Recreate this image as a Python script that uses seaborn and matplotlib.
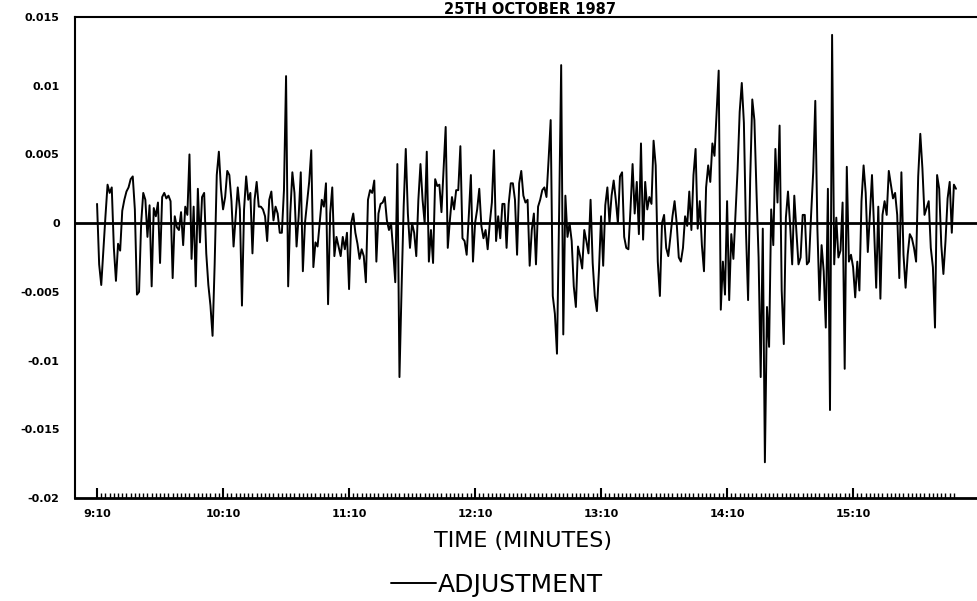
import numpy as np
import pandas as pd
import matplotlib
matplotlib.use("Agg")
import matplotlib.pyplot as plt
import seaborn as sns
from matplotlib.ticker import FixedLocator

# ---- data: price adjustment per minute, in thousandths (0.001) ----
title = "25TH OCTOBER 1987"
tick_labels_x = ["9:10", "10:10", "11:10", "12:10", "13:10", "14:10", "15:10"]
tick_minutes_x = [0, 60, 120, 180, 240, 300, 360]
ytick_values = [0.015, 0.01, 0.005, 0, -0.005, -0.01, -0.015, -0.02]
ytick_labels = ["0.015", "0.01", "0.005", "0", "-0.005", "-0.01", "-0.015", "-0.02"]

seg_0910 = [1.4, -3.0, -4.5, -2.0, 0.5, 2.8, 2.2, 2.6, -1.8, -4.2,
            -1.5, -2.0, 0.9, 1.7, 2.3, 2.6, 3.2, 3.4, 1.0, -5.2,
            -5.0, 0.0, 2.2, 1.7, -1.0, 1.3, -4.6, 1.1, 0.5, 1.5,
            -2.9, 1.9, 2.2, 1.8, 2.0, 1.6, -4.0, 0.5, -0.3, -0.5,
            0.8, -1.6, 1.2, 0.6, 5.0, -2.6, 1.2, -4.6, 2.5, -1.4,
            1.9, 2.2, -2.2, -4.5, -6.0, -8.2, -3.0, 3.5, 5.2, 2.5]
seg_1010 = [1.0, 1.9, 3.8, 3.5, 1.6, -1.7, 0.4, 2.6, 1.0, -6.0,
            1.0, 3.4, 1.7, 2.2, -2.2, 1.7, 3.0, 1.2, 1.2, 1.0,
            0.5, -1.3, 1.7, 2.3, 0.2, 1.2, 0.7, -0.7, -0.7, 2.4,
            10.7, -4.6, 0.7, 3.7, 2.2, -1.7, 0.5, 3.7, -3.5, 0.0,
            1.5, 3.0, 5.3, -3.2, -1.4, -1.7, 0.0, 1.7, 1.2, 2.9,
            -5.9, 0.7, 2.6, -2.4, -1.0, -1.7, -2.4, -1.0, -1.9, -0.7]
seg_1110 = [-4.8, 0.0, 0.7, -0.7, -1.5, -2.6, -1.9, -2.4, -4.3, 1.7,
            2.4, 2.2, 3.1, -2.8, 0.7, 1.4, 1.5, 1.9, 0.2, -0.5,
            0.0, -2.0, -4.3, 4.3, -11.2, -4.8, 1.2, 5.4, 0.7, -1.8,
            0.0, -0.7, -2.4, 1.7, 4.3, 1.7, 0.0, 5.2, -2.8, -0.5,
            -2.9, 3.2, 2.7, 2.8, 0.8, 3.9, 7.0, -1.8, 0.2, 1.9,
            1.0, 2.4, 2.4, 5.6, -1.1, -1.3, -2.3, 0.5, 3.5, -2.8]
seg_1210 = [0.0, 1.0, 2.5, -0.2, -1.1, -0.5, -1.9, 0.0, 1.5, 5.3,
            -1.3, 0.5, -1.1, 1.4, 1.4, -1.8, 1.4, 2.9, 2.9, 1.7,
            -2.3, 2.9, 3.8, 2.0, 1.5, 1.7, -3.1, -0.5, 0.7, -3.0,
            1.2, 1.7, 2.4, 2.6, 1.9, 4.6, 7.5, -5.3, -6.6, -9.5,
            0.5, 11.5, -8.1, 2.0, -1.0, 0.0, -1.3, -4.6, -6.1, -1.7,
            -2.4, -3.3, -0.5, -1.3, -2.2, 1.7, -2.9, -5.3, -6.4, -3.4]
seg_1310 = [0.5, -3.1, 1.3, 2.6, 0.0, 2.0, 3.1, 1.7, 0.0, 3.4,
            3.7, -1.0, -1.8, -1.9, 1.0, 4.3, 0.7, 3.0, -0.8, 5.8,
            -1.2, 3.0, 1.0, 1.9, 1.4, 6.0, 4.2, -2.8, -5.3, 0.0,
            0.6, -1.8, -2.4, -1.0, 0.5, 1.6, 0.0, -2.5, -2.8, -1.8,
            0.5, -0.2, 2.3, -0.5, 3.5, 5.4, -0.4, 1.6, -1.6, -3.5,
            2.6, 4.2, 3.0, 5.8, 4.9, 8.0, 11.1, -6.3, -2.8, -5.2]
seg_1410 = [1.6, -5.6, -0.8, -2.6, 0.7, 3.9, 8.1, 10.2, 7.3, -0.6,
            -5.6, 3.2, 9.0, 7.5, 2.3, -2.5, -11.2, -0.4, -17.4, -6.1,
            -9.0, 1.0, -1.6, 5.4, 1.5, 7.1, -4.9, -8.8, 0.4, 2.3,
            -0.1, -3.0, 2.0, -0.6, -3.0, -2.5, 0.6, 0.6, -3.0, -2.8,
            0.6, 3.7, 8.9, -0.4, -5.6, -1.6, -3.5, -7.6, 2.5, -13.6,
            13.7, -3.0, 0.4, -2.5, -2.0, 1.5, -10.6, 4.1, -2.8, -2.3]
seg_1510 = [-3.2, -5.4, -2.8, -4.9, 1.6, 4.2, 2.2, -2.1, 0.6, 3.5,
            -0.4, -4.7, 1.2, -5.5, 0.6, 1.6, 0.6, 3.8, 2.8, 1.8,
            2.2, 0.6, -4.0, 3.7, -2.3, -4.7, -2.3, -0.8, -1.1, -1.8,
            -2.8, 3.4, 6.5, 4.0, 0.6, 1.1, 1.6, -1.8, -3.2, -7.6,
            3.5, 2.5, -1.6, -3.7, -1.3, 1.8, 3.0, -0.7, 2.8, 2.5]

adjustment_milli = seg_0910 + seg_1010 + seg_1110 + seg_1210 + seg_1310 + seg_1410 + seg_1510
minutes = list(range(len(adjustment_milli)))
df = pd.DataFrame({"minute": minutes,
                   "ADJUSTMENT": np.array(adjustment_milli) / 1000.0})

# ---- style ----
sns.set_style("white")
plt.rcParams["font.family"] = ["DejaVu Sans"]
plt.rcParams["text.color"] = "black"
plt.rcParams["axes.labelcolor"] = "black"
plt.rcParams["xtick.color"] = "black"
plt.rcParams["ytick.color"] = "black"

W, H = 977, 601
fig = plt.figure(figsize=(W / 100, H / 100), dpi=100)
ax_left, ax_right, ax_top, ax_bottom = 75, 977, 17, 498
ax = fig.add_axes([ax_left / W, 1 - ax_bottom / H, (ax_right - ax_left) / W,
                   (ax_bottom - ax_top) / H])

sns.lineplot(data=df, x="minute", y="ADJUSTMENT", ax=ax, color="black",
             linewidth=1.4, label="ADJUSTMENT", legend=False)
ax.axhline(0, color="black", linewidth=2.0, zorder=3)

ax.set_xlim(-10.5, 419)
ax.set_ylim(-0.02, 0.015)

ax.set_yticks(ytick_values)
ax.set_yticklabels(ytick_labels, fontsize=8, fontweight="bold", color="black")
ax.tick_params(axis="y", length=0, pad=11)

ax.xaxis.set_major_locator(FixedLocator(tick_minutes_x))
ax.set_xticklabels(tick_labels_x, fontsize=8, fontweight="bold", color="black")
ax.xaxis.set_minor_locator(FixedLocator(minutes[::2]))
ax.tick_params(axis="x", which="major", direction="in", length=7, width=1.5,
               pad=8, color="black", bottom=True)
ax.tick_params(axis="x", which="minor", direction="in", length=3.5, width=1.0,
               color="black", bottom=True)

for side in ["left", "bottom", "top"]:
    ax.spines[side].set_visible(True)
    ax.spines[side].set_color("black")
ax.spines["left"].set_linewidth(1.5)
ax.spines["top"].set_linewidth(1.5)
ax.spines["bottom"].set_linewidth(2.0)
ax.spines["right"].set_visible(False)

ax.set_ylabel("")
ax.set_xlabel("TIME (MINUTES)", fontsize=16, va="center", color="black")
ax.xaxis.set_label_coords((523 - ax_left) / (ax_right - ax_left),
                          (ax_bottom - 541) / (ax_bottom - ax_top))

# title sits in the thin strip above the frame (cropped in the original)
fig.text(530 / W, 1 - 14 / H, title, ha="center", va="baseline",
         fontsize=10.5, fontweight="bold", color="black")

handles, labels = ax.get_legend_handles_labels()
leg = fig.legend(handles, labels, loc="center", bbox_to_anchor=(497 / W, 1 - 585 / H),
                 frameon=False, fontsize=18, handlelength=1.8, handletextpad=0.1)
for t in leg.get_texts():
    t.set_color("black")

fig.savefig("out.png", dpi=100)
